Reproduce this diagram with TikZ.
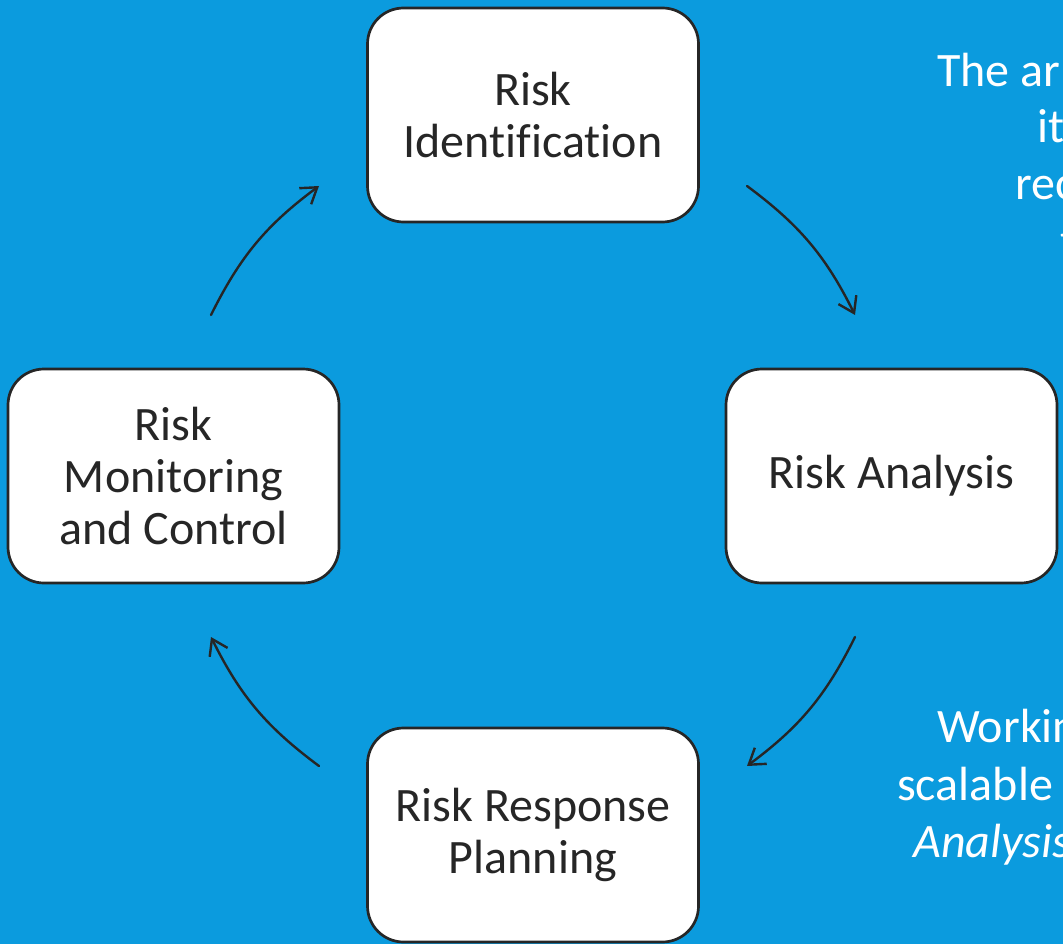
\documentclass[tikz,border=0pt]{standalone}
\usepackage{fontspec}
\setmainfont[Ligatures=NoCommon]{Carlito}
\usetikzlibrary{arrows.meta}
\definecolor{bg}{HTML}{0B9BDE}
\definecolor{ink}{HTML}{262626}
\begin{document}
\begin{tikzpicture}[x=1pt,y=-1pt,
  stage/.style={draw=ink, line width=2.7pt, fill=white, rounded corners=36pt,
    minimum width=331pt, minimum height=214pt, inner sep=0pt, align=center,
    text=ink, font=\fontsize{48}{52}\selectfont},
  cyc/.style={draw=ink, line width=2.4pt, line cap=round,
    -{Straight Barb[length=15pt,width=20pt,line width=2.4pt]}, bend left=13.5},
  note/.style={anchor=base west, inner sep=0pt, text=white,
    font=\fontsize{48}{57}\selectfont}]
\useasboundingbox (0,0) rectangle (1063,944);
\fill[bg] (0,0) rectangle (1063,944);
\clip (0,0) rectangle (1063,944);

% stages
\node[stage] (ident)    at (533,115)   {Risk\\Identification};
\node[stage] (analysis) at (891.5,476) {Risk Analysis};
\node[stage] (response) at (533,835)   {Risk Response\\Planning};
\node[stage] (monitor)  at (173.5,476) {Risk\\Monitoring\\and Control};

% connector end points
\coordinate (c1s) at (747,186);
\coordinate (c1e) at (855,315);
\coordinate (c2s) at (855,637);
\coordinate (c2e) at (747,766);
\coordinate (c3s) at (319,766);
\coordinate (c3e) at (211,637);
\coordinate (c4s) at (211,315);
\coordinate (c4e) at (319,186);

\draw[cyc] (c1s) to (c1e);
\draw[cyc] (c2s) to (c2e);
\draw[cyc] (c3s) to (c3e);
\draw[cyc] (c4s) to (c4e);

% side notes (cut off at the right edge)
\node[note] (n1) at (937,87)   {The ar};
\node[note] (n2) at (1037,143) {it};
\node[note] (n3) at (1015,200) {rec};
\node[note] (n4) at (1060,257) {t};
\node[note] (n5) at (937,742)  {Workin};
\node[note] (n6) at (897,800)  {scalable};
\node[note] (n7) at (913,857)  {\itshape Analysis};
\end{tikzpicture}
\end{document}
